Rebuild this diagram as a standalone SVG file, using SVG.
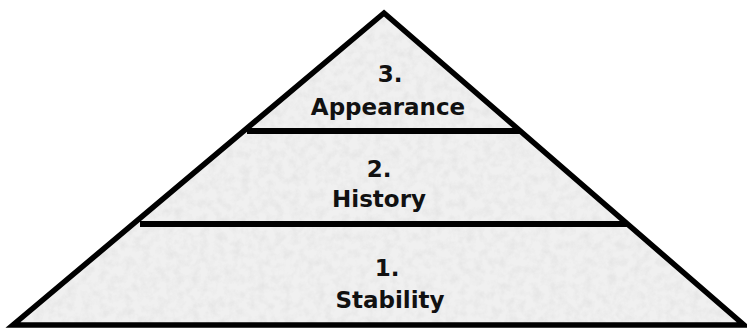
<svg xmlns="http://www.w3.org/2000/svg" width="747" height="329" viewBox="0 0 747 329">
  <defs>
    <clipPath id="tri">
      <polygon points="384,13 744,325 13,325"/>
    </clipPath>
    <filter id="granite" x="0" y="0" width="100%" height="100%">
      <feTurbulence type="fractalNoise" baseFrequency="0.12" numOctaves="3" seed="7" result="n"/>
      <feColorMatrix type="matrix" values="0 0 0 0 0.6  0 0 0 0 0.6  0 0 0 0 0.6  0 0 0 -1.8 1.1"/>
    </filter>
  </defs>
  <style>
    .edge { fill: none; stroke: #000; stroke-width: 5.5; stroke-linejoin: miter; }
    .band { stroke: #000; stroke-width: 6; }
    .lbl { font-family: "DejaVu Sans", Verdana, sans-serif; font-weight: bold; font-size: 23px; fill: #111; text-anchor: middle; }
  </style>
  <rect width="747" height="329" fill="#fff"/>
  <g id="pyramid">
    <polygon points="384,13 744,325 13,325" fill="#f0f0f0"/>
    <rect x="0" y="0" width="747" height="329" clip-path="url(#tri)" filter="url(#granite)" opacity="0.3"/>
    <polygon class="edge" points="384,13 744,325 13,325"/>
  </g>
  <g id="connectors">
    <line class="band" x1="247" y1="131" x2="520" y2="131"/>
    <line class="band" x1="140" y1="224" x2="628" y2="224"/>
  </g>
  <g id="level3">
    <text class="lbl" x="390" y="82">3.</text>
    <text class="lbl" x="388" y="115">Appearance</text>
  </g>
  <g id="level2">
    <text class="lbl" x="379" y="177">2.</text>
    <text class="lbl" x="379" y="207">History</text>
  </g>
  <g id="level1">
    <text class="lbl" x="387" y="276">1.</text>
    <text class="lbl" x="390" y="308">Stability</text>
  </g>
</svg>
